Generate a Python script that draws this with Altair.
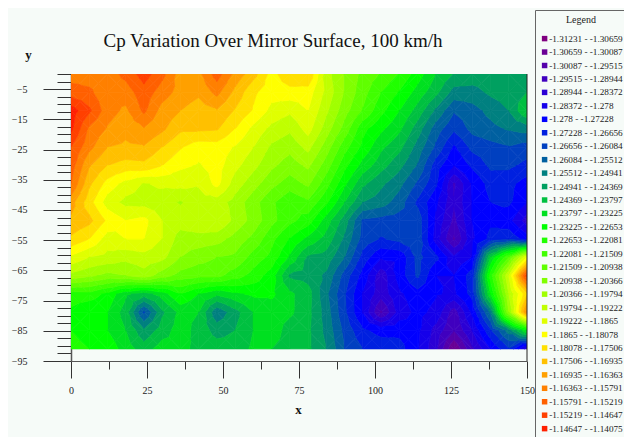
import altair as alt
import pandas as pd

alt.data_transformers.disable_max_rows()

TITLE = "Cp Variation Over Mirror Surface, 100 km/h"
BG = "#f6fbf8"
FONT = "Liberation Serif"

# Legend class edges (as printed)
edges = ["-1.31231","-1.30659","-1.30087","-1.29515","-1.28944","-1.28372","-1.278","-1.27228",
         "-1.26656","-1.26084","-1.25512","-1.24941","-1.24369","-1.23797","-1.23225","-1.22653",
         "-1.22081","-1.21509","-1.20938","-1.20366","-1.19794","-1.19222","-1.1865","-1.18078",
         "-1.17506","-1.16935","-1.16363","-1.15791","-1.15219","-1.14647","-1.14075"]
colors = ["#800080","#6a0095","#5500aa","#4000bf","#2b00d5","#1500ea","#0000ff","#0020e0",
          "#0040c0","#0060a0","#008080","#00a060","#00c040","#00e020","#00ff00","#20ff00",
          "#40ff00","#60ff00","#80ff00","#a0ff00","#c0ff00","#e0ff00","#ffff00","#ffe000",
          "#ffc000","#ffa000","#ff8000","#ff6000","#ff4000","#ff2000"]

# Surface, in legend-class units (0 = lowest class, 30 = top edge)
xs = [0,6,12,18,24,30,36,42,48,54,60,66,72,78,84,90,96,102,108,114,120,126,132,138,144,150]
ys = [0,-6.07,-12.13,-18.2,-24.27,-30.33,-36.4,-42.47,-48.53,-54.6,-60.67,-66.73,-72.8,-78.87,-84.93,-91]
r00 = [26.5,26.5,26.5,27.3,28.5,27.3,25.5,25.7,27.5,25.7,24.4,22.6,23.8,24.0,20.4,18.9,17.7,16.9,15.9,14.5,13.0,11.9,11.6,11.6,11.6,11.6]
r01 = [27.5,27.2,26.3,26.5,27.6,26.5,25.6,25.2,26.3,24.7,23.2,22.4,22.6,22.5,20.7,18.9,17.4,16.0,14.9,13.6,12.3,10.6,10.6,11.2,11.5,12.0]
r02 = [29.5,28.2,26.4,25.8,27.2,25.6,25.0,24.5,24.9,23.9,22.9,21.7,21.2,22.0,20.2,18.4,16.9,15.3,14.0,12.6,10.8,9.1,9.6,10.3,11.0,13.0]
r03 = [29.2,26.8,25.9,25.3,25.9,25.2,24.2,24.2,24.1,23.0,21.7,20.7,20.2,21.4,19.5,17.6,15.3,14.2,13.2,11.5,9.5,8.2,9.3,9.7,10.1,10.4]
r04 = [28.0,26.3,25.0,24.8,24.9,24.0,23.1,22.4,22.5,21.9,21.0,19.8,19.3,20.3,18.5,16.4,14.7,13.2,12.3,10.6,8.8,6.8,8.3,8.6,8.9,8.5]
r05 = [27.5,25.1,24.0,23.6,23.7,23.0,22.2,21.9,22.4,21.3,20.3,19.2,18.5,19.2,17.5,15.3,13.6,12.4,11.3,9.9,7.5,6.0,7.2,8.2,8.2,7.7]
r06 = [27.0,24.2,22.6,21.6,20.9,21.2,21.3,21.1,22.3,20.5,19.4,18.3,17.5,18.2,16.4,14.2,12.2,11.2,10.3,8.8,7.2,3.8,6.1,7.4,7.3,6.5]
r07 = [25.4,23.4,21.5,20.7,20.6,20.4,19.9,20.6,20.5,19.6,18.4,17.2,16.2,16.8,15.2,13.0,11.0,10.5,9.5,7.8,6.2,4.1,6.0,7.0,7.2,6.0]
r08 = [24.8,24.3,22.8,22.0,22.3,21.0,20.5,20.8,21.0,19.7,18.6,17.3,16.3,15.5,13.5,11.5,8.8,8.6,8.5,8.6,5.8,3.7,6.0,6.8,6.3,4.5]
r09 = [23.8,23.0,21.5,22.0,22.0,21.0,19.5,19.6,19.4,18.6,17.7,16.3,14.9,13.7,12.6,10.8,8.6,7.9,8.3,8.7,5.5,2.8,5.8,7.3,7.8,6.5]
r10 = [21.8,21.0,20.7,20.3,20.6,20.3,19.0,18.4,18.0,17.8,16.6,15.7,13.8,11.8,11.6,10.0,7.6,6.1,6.2,8.3,7.3,5.2,6.0,13.0,17.0,22.0]
r11 = [19.7,19.2,18.7,19.0,19.6,18.5,17.6,17.3,17.3,16.5,15.6,14.5,11.8,11.6,10.8,8.6,6.6,4.3,6.4,8.2,6.0,6.0,7.5,15.5,21.0,28.5]
r12 = [15.5,15.6,14.7,13.2,12.5,13.5,15.0,14.0,13.2,13.8,14.2,14.2,13.2,12.4,10.2,8.1,5.9,4.4,5.8,6.6,6.1,5.8,7.4,14.0,20.0,23.8]
r13 = [14.8,14.0,14.0,12.5,8.8,11.8,13.3,13.0,10.2,11.6,13.0,13.5,13.2,12.3,10.5,8.2,5.9,2.8,5.4,6.3,5.7,3.4,6.2,10.2,19.0,26.2]
r14 = [15.0,14.3,14.0,13.0,11.2,12.5,13.5,12.6,11.6,12.0,13.0,13.6,12.5,12.2,10.7,8.7,7.2,6.6,6.7,6.2,4.6,3.0,5.0,7.8,10.5,14.0]
r15 = [15.5,15.0,14.7,13.5,12.5,13.5,13.2,12.8,12.5,12.4,13.2,13.0,12.6,12.2,11.0,9.0,8.0,7.7,7.4,6.1,4.2,1.0,3.8,6.0,7.8,4.5]
grid = [r00,r01,r02,r03,r04,r05,r06,r07,r08,r09,r10,r11,r12,r13,r14,r15]

x_ticks = [12.5*i for i in range(13)]
y_ticks = [-2.5*i for i in range(39)]
right_edge_x = [150]
right_edge_y = [0]
right_edge_y2 = [-95]

labels = [f"{edges[i]} - {edges[i+1]}" for i in range(30)]


def clip(poly, level, keep_above):
    out = []
    n = len(poly)
    for a in range(n):
        p, q = poly[a], poly[(a + 1) % n]
        pin = p[2] >= level if keep_above else p[2] <= level
        qin = q[2] >= level if keep_above else q[2] <= level
        if pin:
            out.append(p)
        if pin != qin:
            t = (level - p[2]) / (q[2] - p[2])
            out.append((p[0] + t*(q[0]-p[0]), p[1] + t*(q[1]-p[1]), level))
    return out


rows = []
pid = 0


def emit(poly, band):
    global pid
    for k, v in enumerate(poly):
        rows.append({"p": pid, "k": k, "x": round(v[0], 3), "y": round(v[1], 3), "c": labels[band]})
    pid += 1


for j in range(len(ys) - 1):
    for i in range(len(xs) - 1):
        q = [(xs[i], ys[j], grid[j][i]), (xs[i+1], ys[j], grid[j][i+1]),
             (xs[i+1], ys[j+1], grid[j+1][i+1]), (xs[i], ys[j+1], grid[j+1][i])]
        vals = [c[2] for c in q]
        if int(min(vals)) == int(max(vals)):
            emit(q, int(min(vals)))
            continue
        ctr = ((xs[i]+xs[i+1])/2, (ys[j]+ys[j+1])/2, sum(vals)/4)
        for a in range(4):
            tri = [q[a], q[(a+1) % 4], ctr]
            tv = [c[2] for c in tri]
            for b in range(int(min(tv)), int(max(tv)) + 1):
                if b > 29:
                    continue
                piece = clip(clip(tri, b, True), b + 1, False)
                if len(piece) >= 3:
                    emit(piece, b)

df = pd.DataFrame(rows)

x_scale = alt.Scale(domain=[0, 150], range=[0, 456], nice=False, zero=False)
y_scale = alt.Scale(domain=[-95, 0], range=[287, 0], nice=False, zero=False)
lab_font = dict(labelFont=FONT, labelFontSize=10, labelColor="#222", titleFont=FONT,
                titleFontSize=13, titleFontWeight="bold", titleColor="#111",
                grid=False, labelOverlap=False, labelFlush=False, labelBound=False,
                tickColor="#333", domainColor="#555", tickWidth=1, titleAngle=0)

x_axis = alt.Axis(values=x_ticks, title="x", orient="bottom",
                  tickSize={"expr": "datum.value % 25 === 0 ? 17 : 8"},
                  labelExpr="datum.value % 25 === 0 ? datum.label : ''",
                  labelPadding=7, titleX=227, titleY=42, titleAlign="center", domainWidth=1.2,
                  **lab_font)
y_axis = alt.Axis(values=y_ticks, title="y", orient="left",
                  tickSize={"expr": "(datum.value + 5) % 10 === 0 ? 28 : 14"},
                  labelExpr="(datum.value + 5) % 10 === 0 ? datum.label : ''",
                  labelPadding=16, titleX=-43, titleY=-13, titleAlign="center", domainWidth=1.5,
                  **lab_font)

legend = alt.Legend(title="Legend", orient="none", legendX=464, legendY=-64, columns=1,
                    symbolType="square", symbolSize=30, symbolStrokeWidth=0, symbolLimit=40,
                    labelFont=FONT, labelFontSize=9.2, labelColor="#222", labelOffset=0,
                    labelLimit=200,
                    titleFont=FONT, titleFontSize=10, titleFontWeight="normal", titleColor="#222",
                    titleAnchor="middle", titlePadding=9,
                    rowPadding=3.45, padding=5, fillColor=BG, strokeColor="#666",
                    cornerRadius=0)

surface = alt.Chart(df).mark_line(strokeWidth=0.7, interpolate="linear-closed", clip=True).encode(
    x=alt.X("x:Q", scale=x_scale, axis=x_axis),
    y=alt.Y("y:Q", scale=y_scale, axis=y_axis),
    detail="p:N",
    order="k:Q",
    fill=alt.Fill("c:N", scale=alt.Scale(domain=labels, range=colors), legend=legend),
    stroke=alt.Stroke("c:N", scale=alt.Scale(domain=labels, range=colors), legend=None),
)

edge = alt.Chart(pd.DataFrame({"x": right_edge_x, "y": right_edge_y, "y2": right_edge_y2})).mark_rule(
    color="#222", strokeWidth=1
).encode(x=alt.X("x:Q", scale=x_scale, axis=x_axis), y=alt.Y("y:Q", scale=y_scale, axis=y_axis), y2="y2:Q")

title_mark = alt.Chart(pd.DataFrame({"t": [TITLE]})).mark_text(
    font=FONT, fontSize=19, color="#111", align="center", baseline="middle"
).encode(x=alt.value(202), y=alt.value(-33), text="t:N")

chart = (surface + edge + title_mark).properties(
    width=456, height=287, background=BG,
    padding={"left": 63, "top": 66, "right": 97, "bottom": 76},
    autosize=alt.AutoSizeParams(type="none"),
).configure_view(stroke=None)

chart.save("out.html", embed_options={"renderer": "svg", "actions": False})
